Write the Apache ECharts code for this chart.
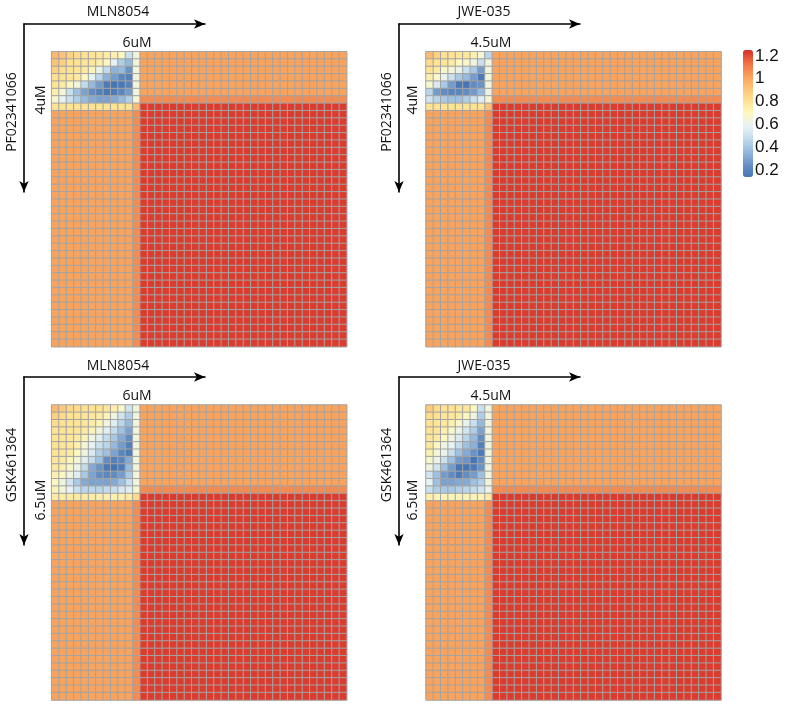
<!DOCTYPE html>
<html>
<head>
<meta charset="utf-8">
<script src="https://cdn.jsdelivr.net/npm/echarts@6/dist/echarts.min.js"></script>
<style>html,body{margin:0;padding:0;background:#fff;}#c{width:785px;height:707px;}</style>
</head>
<body>
<div id="c"></div>
<script>
// ---------------- DATA ----------------
const gridSize = 40;                // 40 x 40 dose matrix per panel
const orangeValue = 0.99;           // background level (single drug)
const redValue = 1.18;              // background level (beyond both thresholds)
const edgeValue = 1.04;             // boundary band
const colorTicks = [0.2, 0.4, 0.6, 0.8, 1, 1.2];

// PF02341066 (4uM) x MLN8054 (6uM)
const blockTL = [
  [0.93,0.90,0.86,0.82,0.80,0.79,0.78,0.76,0.74,0.70,0.52,0.64],
  [0.90,0.86,0.81,0.80,0.79,0.78,0.75,0.70,0.60,0.46,0.40,0.64],
  [0.86,0.81,0.80,0.79,0.77,0.72,0.62,0.50,0.38,0.40,0.30,0.64],
  [0.81,0.80,0.79,0.76,0.70,0.60,0.48,0.38,0.32,0.26,0.24,0.64],
  [0.80,0.76,0.70,0.64,0.50,0.40,0.32,0.22,0.20,0.21,0.25,0.64],
  [0.75,0.66,0.52,0.42,0.34,0.28,0.24,0.21,0.22,0.26,0.32,0.64],
  [0.68,0.60,0.52,0.46,0.40,0.36,0.34,0.34,0.36,0.40,0.46,0.66],
  [0.80,0.80,0.80,0.80,0.80,0.80,0.80,0.80,0.80,0.80,0.80,0.92]
];
// PF02341066 (4uM) x JWE-035 (4.5uM)
const blockTR = [
  [0.92,0.86,0.81,0.80,0.79,0.78,0.74,0.66,0.48],
  [0.82,0.80,0.79,0.76,0.70,0.68,0.64,0.52,0.64],
  [0.80,0.76,0.68,0.66,0.62,0.52,0.44,0.32,0.64],
  [0.75,0.68,0.62,0.52,0.44,0.40,0.32,0.22,0.64],
  [0.68,0.56,0.44,0.32,0.21,0.20,0.28,0.30,0.64],
  [0.48,0.32,0.28,0.26,0.26,0.28,0.32,0.40,0.62],
  [0.54,0.48,0.44,0.42,0.42,0.46,0.52,0.58,0.66],
  [0.80,0.80,0.80,0.80,0.80,0.80,0.80,0.80,0.90]
];
// GSK461364 (6.5uM) x MLN8054 (6uM)
const blockBL = [
  [0.93,0.88,0.84,0.82,0.81,0.80,0.80,0.78,0.74,0.68,0.54,0.64],
  [0.86,0.82,0.80,0.80,0.79,0.78,0.76,0.72,0.64,0.54,0.46,0.64],
  [0.82,0.80,0.80,0.79,0.78,0.76,0.72,0.64,0.58,0.48,0.40,0.64],
  [0.80,0.80,0.79,0.78,0.76,0.72,0.64,0.58,0.50,0.42,0.34,0.64],
  [0.80,0.79,0.78,0.76,0.72,0.64,0.58,0.50,0.44,0.36,0.28,0.64],
  [0.80,0.79,0.78,0.74,0.66,0.60,0.52,0.48,0.40,0.32,0.24,0.64],
  [0.80,0.78,0.76,0.70,0.64,0.56,0.46,0.42,0.34,0.26,0.22,0.64],
  [0.79,0.77,0.72,0.66,0.58,0.50,0.42,0.28,0.24,0.26,0.36,0.64],
  [0.78,0.74,0.68,0.62,0.50,0.36,0.30,0.21,0.20,0.22,0.40,0.64],
  [0.74,0.70,0.64,0.58,0.44,0.34,0.28,0.26,0.28,0.32,0.44,0.64],
  [0.70,0.64,0.54,0.44,0.36,0.34,0.34,0.34,0.36,0.42,0.52,0.64],
  [0.72,0.66,0.60,0.52,0.48,0.48,0.48,0.50,0.52,0.56,0.58,0.66],
  [0.76,0.76,0.76,0.76,0.76,0.76,0.74,0.74,0.74,0.74,0.76,0.82]
];
// GSK461364 (6.5uM) x JWE-035 (4.5uM)
const blockBR = [
  [0.88,0.82,0.80,0.80,0.79,0.78,0.70,0.52,0.64],
  [0.82,0.80,0.79,0.78,0.76,0.70,0.64,0.46,0.64],
  [0.80,0.79,0.78,0.74,0.68,0.62,0.52,0.40,0.64],
  [0.80,0.78,0.74,0.68,0.62,0.54,0.46,0.34,0.64],
  [0.79,0.76,0.70,0.64,0.56,0.48,0.40,0.28,0.64],
  [0.78,0.70,0.64,0.60,0.50,0.42,0.38,0.24,0.64],
  [0.74,0.66,0.62,0.52,0.42,0.36,0.30,0.22,0.64],
  [0.68,0.62,0.52,0.42,0.32,0.30,0.20,0.28,0.64],
  [0.64,0.54,0.42,0.32,0.20,0.20,0.22,0.30,0.64],
  [0.54,0.42,0.32,0.28,0.22,0.28,0.32,0.42,0.64],
  [0.60,0.42,0.34,0.34,0.36,0.36,0.42,0.46,0.64],
  [0.52,0.46,0.44,0.44,0.46,0.48,0.50,0.54,0.62],
  [0.74,0.72,0.72,0.72,0.72,0.72,0.72,0.72,0.76]
];
// red region starts at [row, col]
const redStartTL = [7, 12];
const redStartTR = [7, 9];
const redStartBL = [12, 12];
const redStartBR = [12, 9];

// ---------------- BUILD ----------------
function buildPanel(block, redStart) {
  const out = [];
  const bRows = block.length, bCols = block[0].length;
  const [rr, rc] = redStart;
  for (let r = 0; r < gridSize; r++) {
    for (let c = 0; c < gridSize; c++) {
      let v;
      if (r < bRows && c < bCols) v = block[r][c];
      else if (r >= rr && c >= rc) v = redValue;
      else if (c === rc - 1 && r >= bRows) v = edgeValue;
      else if (r === rr - 1 && c >= rc) v = edgeValue;
      else v = orangeValue;
      out.push([c, r, v]);
    }
  }
  return out;
}
const cats = Array.from({length: gridSize}, (_, i) => String(i));

const panels = [
  {left: 51.7, top: 51.7, data: buildPanel(blockTL, redStartTL)},
  {left: 426, top: 51.7, data: buildPanel(blockTR, redStartTR)},
  {left: 51.7, top: 405, data: buildPanel(blockBL, redStartBL)},
  {left: 426, top: 405, data: buildPanel(blockBR, redStartBR)}
];
const side = 295;
const arrows = [
  {left: 24, top: 24}, {left: 399, top: 24},
  {left: 24, top: 377}, {left: 399, top: 377}
];
const arrowW = 181, arrowH = 168;

const grids = [], xAxes = [], yAxes = [], series = [];
panels.forEach((p, i) => {
  grids.push({left: p.left, top: p.top, width: side, height: side});
  xAxes.push({type: 'category', data: cats, gridIndex: i, show: false});
  yAxes.push({type: 'category', data: cats, gridIndex: i, inverse: true, show: false});
  series.push({
    type: 'heatmap', xAxisIndex: i, yAxisIndex: i, data: p.data,
    itemStyle: {borderColor: '#a3a3a3', borderWidth: 1},
    emphasis: {disabled: true}, silent: true
  });
});
arrows.forEach((a, k) => {
  const gi = grids.length;
  grids.push({left: a.left, top: a.top, width: arrowW, height: arrowH});
  const line = {show: true, onZero: false, lineStyle: {color: '#000', width: 1.6}, symbolSize: [7, 11]};
  xAxes.push({type: 'value', gridIndex: gi, position: 'top', min: 0, max: 1,
    axisLine: Object.assign({}, line, {symbol: ['none', 'arrow']}),
    axisTick: {show: false}, axisLabel: {show: false}, splitLine: {show: false}});
  yAxes.push({type: 'value', gridIndex: gi, position: 'left', min: 0, max: 1,
    axisLine: Object.assign({}, line, {symbol: ['arrow', 'none']}),
    axisTick: {show: false}, axisLabel: {show: false}, splitLine: {show: false}});
});
// colour bar tick axis
const lg = grids.length;
grids.push({left: 752, top: 56, width: 1, height: 114});
xAxes.push({type: 'value', gridIndex: lg, show: false});
yAxes.push({type: 'value', gridIndex: lg, position: 'right', min: colorTicks[0], max: colorTicks[colorTicks.length - 1],
  interval: 0.2, axisLine: {show: false}, axisTick: {show: false}, splitLine: {show: false},
  axisLabel: {margin: 2, fontSize: 17, color: '#111', fontFamily: 'Liberation Sans'}});

function txt(s, x, y, rot) {
  return {type: 'text', x: x, y: y, rotation: rot || 0, silent: true,
    style: {text: s, x: 0, y: 0, fill: '#111', font: '14px "Open Sans"',
      textAlign: 'center', textVerticalAlign: 'middle', align: 'center', verticalAlign: 'middle'}};
}
const R = Math.PI / 2;
const graphics = [
  txt('MLN8054', 118, 12.5), txt('JWE-035', 484, 12.5),
  txt('MLN8054', 118, 366), txt('JWE-035', 484, 366),
  txt('PF02341066', 12, 112, R), txt('PF02341066', 387, 112, R),
  txt('GSK461364', 12, 465, R), txt('GSK461364', 387, 465, R),
  txt('6uM', 137, 43), txt('4.5uM', 491, 43),
  txt('6uM', 137, 396.5), txt('4.5uM', 491, 396.5),
  txt('4uM', 41, 100, R), txt('4uM', 413, 100, R),
  txt('6.5uM', 41, 500, R), txt('6.5uM', 413, 500, R)
];

const chart = echarts.init(document.getElementById('c'));
chart.setOption({
  backgroundColor: '#fff',
  animation: false,
  grid: grids, xAxis: xAxes, yAxis: yAxes, series: series,
  visualMap: {
    type: 'continuous', min: 0.2, max: 1.2, seriesIndex: [0, 1, 2, 3],
    calculable: false, realtime: false, hoverLink: false,
    left: 743, top: 50, itemWidth: 10, itemHeight: 127, padding: 0,
    text: null, showLabel: false,
    inRange: {color: ['#4575b4','#6a93c6','#96bade','#c2dcec','#e6f2f4','#fcf8c0','#fee392','#fdc276','#f8a05a','#ee6e44','#d73027']}
  },
  graphic: graphics
});
</script>
</body>
</html>
